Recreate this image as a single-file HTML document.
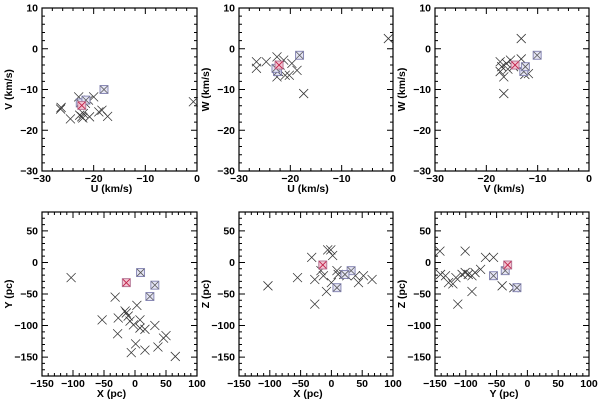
<!DOCTYPE html>
<html><head><meta charset="utf-8"><style>
html,body{margin:0;padding:0;background:#fff}
svg{display:block}
text{font-family:"Liberation Sans",sans-serif;font-size:10.5px;font-weight:bold;fill:#000}
</style></head><body>
<svg id="fig" width="600" height="400"></svg>
<script>
// Panel 1: U vs V
const p1x=[-26.3,-26.4,-24.5,-22.9,-22.7,-22.3,-22.0,-21.6,-21.0,-20.0,-20.8,-19.0,-18.4,-17.3,-0.7,-22.1];
const p1y=[-14.4,-14.8,-17.2,-11.8,-16.3,-16.7,-15.9,-13.4,-12.6,-11.8,-16.7,-15.5,-15.1,-16.6,-13.0,-17.0];
const p1bx=[-18.0,-22.6,-21.5];const p1by=[-10.0,-13.3,-12.6];
const p1rx=[-22.3];const p1ry=[-13.9];
// Panel 2: U vs W
const p2x=[-26.6,-26.6,-24.7,-22.6,-22.3,-22.6,-22.0,-21.3,-21.0,-20.2,-19.7,-18.7,-17.4,-0.9];
const p2y=[-3.2,-4.8,-3.2,-2.0,-5.6,-6.9,-4.0,-2.8,-6.5,-6.5,-3.6,-5.3,-11.0,2.5];
const p2bx=[-18.2,-22.5,-22.8];const p2by=[-1.6,-5.6,-4.8];
const p2rx=[-22.2];const p2ry=[-4.0];
// Panel 3: V vs W
const p3x=[-17.3,-17.0,-16.6,-16.6,-16.1,-15.3,-14.7,-13.2,-13.2,-11.8,-17.3,-15.8,-12.5];
const p3y=[-3.2,-4.4,-6.9,-11.0,-3.6,-2.8,-4.4,2.5,-2.5,-6.1,-5.6,-5.0,-6.3];
const p3bx=[-10.1,-12.7,-12.4];const p3by=[-1.6,-5.6,-4.4];
const p3rx=[-14.4];const p3ry=[-4.0];
// Panel 4: X vs Y
const p4x=[-103,-53,-32,-27,-28,-16,-11,-8,-2.5,-6,1,3,8,8,16,16,32,37,46,50,65,-14];
const p4y=[-24,-91,-55,-88,-113,-77,-85,-93,-99,-143,-129,-68,-91,-104,-106,-139,-100,-134,-120,-116,-149,-80];
const p4bx=[9,32,24];const p4by=[-16,-36,-54];
const p4rx=[-14];const p4ry=[-32];
// Panel 5: X vs Z
const p5x=[-103,-55,-32,-27,-27,-17,-13,-8,-6,-1,2,0,9,11,20,25,39,44,52,66];
const p5y=[-37,-24,8,-27,-66,-13,-21,-46,20,20,11,-32,-13,-19,-19,-21,-21,-32,-21,-27];
const p5bx=[9,32,22];const p5by=[-40,-13,-19];
const p5rx=[-14];const p5ry=[-4];
// Panel 6: Y vs Z
const p6x=[-142,-141,-133,-128,-121,-116,-113,-106,-101,-101,-96,-90,-90,-85,-76,-68,-55,-41,-22];
const p6y=[18,-19,-21,-32,-34,-24,-66,-19,18,-16,-19,-21,-46,-16,-11,8,8,-37,-40];
const p6bx=[-55,-36,-17];const p6by=[-21,-13,-40];
const p6rx=[-32];const p6ry=[-4];

const NS="http://www.w3.org/2000/svg";
const svg=document.getElementById('fig');
function mk(tag,attrs,parent){const e=document.createElementNS(NS,tag);for(const k in attrs)e.setAttribute(k,attrs[k]);(parent||svg).appendChild(e);return e;}

const topY=[8,171], botY=[212,376];
const cols=[[42,197],[239,393],[435,589]];
const panels=[
 {c:0,r:0,xd:[-30,0],yd:[-30,10],xt:[-30,-20,-10,0],yt:[-30,-20,-10,0,10],mx:2,my:2,xl:'U  (km/s)',yl:'V  (km/s)',x:p1x,y:p1y,bx:p1bx,by:p1by,rx:p1rx,ry:p1ry,n:'uv'},
 {c:1,r:0,xd:[-30,0],yd:[-30,10],xt:[-30,-20,-10,0],yt:[-30,-20,-10,0,10],mx:2,my:2,xl:'U  (km/s)',yl:'W  (km/s)',x:p2x,y:p2y,bx:p2bx,by:p2by,rx:p2rx,ry:p2ry,n:'uw'},
 {c:2,r:0,xd:[-30,0],yd:[-30,10],xt:[-30,-20,-10,0],yt:[-30,-20,-10,0,10],mx:2,my:2,xl:'V  (km/s)',yl:'W  (km/s)',x:p3x,y:p3y,bx:p3bx,by:p3by,rx:p3rx,ry:p3ry,n:'vw'},
 {c:0,r:1,xd:[-150,100],yd:[-180,80],xt:[-150,-100,-50,0,50,100],yt:[-150,-100,-50,0,50],mx:10,my:10,xl:'X  (pc)',yl:'Y  (pc)',x:p4x,y:p4y,bx:p4bx,by:p4by,rx:p4rx,ry:p4ry,n:'xy'},
 {c:1,r:1,xd:[-150,100],yd:[-180,80],xt:[-150,-100,-50,0,50,100],yt:[-150,-100,-50,0,50],mx:10,my:10,xl:'X  (pc)',yl:'Z  (pc)',x:p5x,y:p5y,bx:p5bx,by:p5by,rx:p5rx,ry:p5ry,n:'xz'},
 {c:2,r:1,xd:[-150,100],yd:[-180,80],xt:[-150,-100,-50,0,50,100],yt:[-150,-100,-50,0,50],mx:10,my:10,xl:'Y  (pc)',yl:'Z  (pc)',x:p6x,y:p6y,bx:p6bx,by:p6by,rx:p6rx,ry:p6ry,n:'yz'}
];
function cross(g,x,y,s,col,w){
 mk('path',{d:`M${x-s},${y-s}L${x+s},${y+s}M${x-s},${y+s}L${x+s},${y-s}`,stroke:col,'stroke-width':w,fill:'none'},g);
}
panels.forEach(p=>{
 const [x0,x1]=cols[p.c]; const [y0,y1]=p.r?botY:topY;
 const sx=v=>x0+(v-p.xd[0])/(p.xd[1]-p.xd[0])*(x1-x0);
 const sy=v=>y1-(v-p.yd[0])/(p.yd[1]-p.yd[0])*(y1-y0);
 const g=mk('g',{});
 
 
 const fr=mk('rect',{x:x0,y:y0,width:x1-x0,height:y1-y0,fill:'none',stroke:'#000','stroke-width':1.2},g);
 
 
 let d='';
 for(let v=p.xd[0];v<=p.xd[1]+1e-9;v+=p.mx){const X=sx(v);const maj=p.xt.some(t=>Math.abs(t-v)<1e-9);const L=maj?6:3;d+=`M${X},${y1}v${-L}M${X},${y0}v${L}`;}
 const ys=Math.ceil(p.yd[0]/p.my)*p.my;
 for(let v=ys;v<=p.yd[1]+1e-9;v+=p.my){const Y=sy(v);const maj=p.yt.some(t=>Math.abs(t-v)<1e-9);const L=maj?6:3;d+=`M${x0},${Y}h${L}M${x1},${Y}h${-L}`;}
 const tk=mk('path',{d:d,stroke:'#000','stroke-width':1,fill:'none'},g);
 
 
 p.xt.forEach(v=>{const t=mk('text',{x:sx(v),y:y1+11,'text-anchor':'middle'},g);t.textContent=String(v).replace('-','\u2212');
  
  });
 p.yt.forEach(v=>{const t=mk('text',{x:x0-4,y:sy(v)+3.5,'text-anchor':'end'},g);t.textContent=String(v).replace('-','\u2212');
  
  });
 const xt=mk('text',{x:(x0+x1)/2-8,y:y1+21,'text-anchor':'middle'},g);xt.textContent=p.xl;
 
 
 const yx=x0-30, yy=(y0+y1)/2;
 const yt=mk('text',{x:yx,y:yy,'text-anchor':'middle',transform:`rotate(-90 ${yx} ${yy})`},g);yt.textContent=p.yl;
 
 
 p.x.forEach((v,i)=>{const m=mk('g',{},g);
  
  
  cross(m,sx(v),sy(p.y[i]),4.5,'#333',0.75);});
 p.bx.forEach((v,i)=>{const m=mk('g',{},g);
  
  
  const X=sx(v),Y=sy(p.by[i]);
  mk('rect',{x:X-4,y:Y-4,width:8,height:8,fill:'#e4e4f4',stroke:'#8080b0','stroke-width':0.9},m);
  cross(m,X,Y,3.5,'#555',0.75);});
 p.rx.forEach((v,i)=>{const m=mk('g',{},g);
  
  
  const X=sx(v),Y=sy(p.ry[i]);
  mk('rect',{x:X-4,y:Y-4,width:8,height:8,fill:'#f2c4d2',stroke:'#b07090','stroke-width':0.9},m);
  cross(m,X,Y,3.5,'#c02048',0.9);});
});
</script>
</body></html>
